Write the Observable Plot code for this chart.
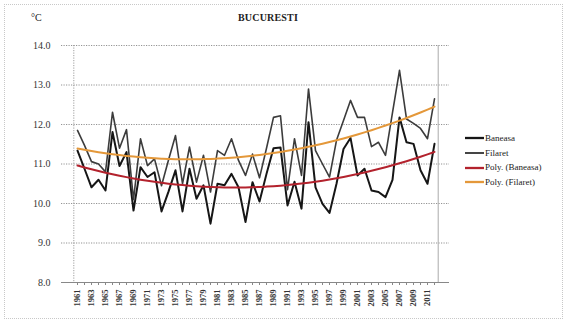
<!DOCTYPE html>
<html>
<head>
<meta charset="utf-8">
<script src="https://cdn.jsdelivr.net/npm/d3@7"></script>
<script src="https://cdn.jsdelivr.net/npm/@observablehq/plot@0.6"></script>
<style>
  html, body { margin: 0; padding: 0; background: #fff; }
  #wrap { position: relative; width: 566px; height: 321px; font-family: "Liberation Serif", "Times New Roman", "DejaVu Serif", serif; color: #222; overflow: hidden; }
  #border { position: absolute; left: 4px; top: 4px; right: 3px; bottom: 2px; border: 1px dotted #c8c8c8; pointer-events: none; }
  #header { position: relative; height: 30px; }
  #unit { position: absolute; left: 31px; top: 12px; font-size: 10px; }
  #title { position: absolute; left: 228px; width: 80px; text-align: center; top: 12px; font-size: 10px; font-weight: bold; letter-spacing: 0.2px; }
  #legend { position: absolute; left: 465px; top: 131px; font-size: 9px; line-height: 14.7px; }
  #legend .row { display: flex; align-items: center; white-space: nowrap; }
  #legend .sw { width: 19px; margin-right: 1px; }
</style>
</head>
<body>
<div id="wrap">
  <div id="border"></div>
  <div id="header"><div id="unit">°C</div><div id="title">BUCURESTI</div></div>
  <div id="chart"></div>
  <div id="legend"></div>
</div>
<script>
const years = [1961,1962,1963,1964,1965,1966,1967,1968,1969,1970,
  1971,1972,1973,1974,1975,1976,1977,1978,1979,1980,
  1981,1982,1983,1984,1985,1986,1987,1988,1989,1990,
  1991,1992,1993,1994,1995,1996,1997,1998,1999,2000,
  2001,2002,2003,2004,2005,2006,2007,2008,2009,2010,
  2011,2012];

const baneasa = [11.34,10.88,10.41,10.60,10.33,11.81,10.95,11.30,9.82,10.92,
  10.67,10.79,9.80,10.30,10.84,9.80,10.88,10.12,10.46,9.49,
  10.50,10.46,10.75,10.41,9.53,10.54,10.05,10.75,11.40,11.42,
  9.95,10.55,9.87,12.06,10.41,9.99,9.76,10.50,11.38,11.66,
  10.71,10.88,10.33,10.29,10.16,10.60,12.18,11.55,11.51,10.84,
  10.50,11.51];

const filaret = [11.85,11.47,11.06,11.00,10.80,12.31,11.40,11.87,10.10,11.64,
  10.96,11.13,10.45,11.10,11.72,10.50,11.43,10.54,11.22,10.29,
  11.34,11.22,11.64,11.09,10.71,11.25,10.65,11.40,12.18,12.22,
  10.35,11.64,10.71,12.90,11.34,11.00,10.67,11.60,12.10,12.61,
  12.18,12.18,11.44,11.55,11.22,12.30,13.37,12.14,12.03,11.90,
  11.64,12.65];

const yTicks = [8,9,10,11,12,13,14];
const labelYears = [1961,1963,1965,1967,1969,1971,1973,1975,1977,1979,1981,1983,1985,1987,1989,1991,1993,1995,1997,1999,2001,2003,2005,2007,2009,2011];

const seriesNames = ["Baneasa","Filaret","Poly. (Baneasa)","Poly. (Filaret)"];
const seriesColors = ["#161616","#3c3c3c","#b3222d","#e4983a"];
const seriesWidths = [2, 1.6, 2, 2];

// Order-2 polynomial least-squares trend (as Excel's "Poly." trendline), x = 1..n
function polyTrend(ys) {
  const n = ys.length;
  let s = [0,0,0,0,0], t = [0,0,0];
  for (let i = 0; i < n; i++) {
    const x = i + 1, y = ys[i];
    let p = 1;
    for (let k = 0; k <= 4; k++) { s[k] += p; if (k <= 2) t[k] += p * y; p *= x; }
  }
  const M = [[s[0],s[1],s[2]],[s[1],s[2],s[3]],[s[2],s[3],s[4]]];
  const det = m => m[0][0]*(m[1][1]*m[2][2]-m[1][2]*m[2][1]) - m[0][1]*(m[1][0]*m[2][2]-m[1][2]*m[2][0]) + m[0][2]*(m[1][0]*m[2][1]-m[1][1]*m[2][0]);
  const D = det(M);
  const coef = [0,1,2].map(c => det(M.map((row, r) => row.map((v, j) => j === c ? t[r] : v))) / D);
  return ys.map((_, i) => { const x = i + 1; return coef[0] + coef[1]*x + coef[2]*x*x; });
}

const trendB = polyTrend(baneasa);
const trendF = polyTrend(filaret);

const rows = years.map((yr, i) => ({year: yr, baneasa: baneasa[i], filaret: filaret[i], tb: trendB[i], tf: trendF[i]}));

const chart = Plot.plot({
  width: 566,
  height: 291,
  marginLeft: 61,
  marginRight: 117,
  marginTop: 15,
  marginBottom: 39,
  style: {fontFamily: "'Liberation Serif', 'Times New Roman', 'DejaVu Serif', serif", fontSize: "10px", background: "transparent", color: "#222"},
  x: {type: "point", domain: years, padding: 0.5, label: null},
  y: {domain: [8, 14], label: null},
  marks: [
    Plot.gridY(yTicks.slice(1), {stroke: "#777", strokeOpacity: 1, strokeWidth: 0.8, strokeDasharray: "1.2,1.3"}),
    Plot.ruleX([years[0]], {stroke: "#888", strokeWidth: 0.8, strokeDasharray: "1.2,1.3", dx: -3.7}),
    Plot.ruleX([years[years.length - 1]], {stroke: "#aaa", strokeWidth: 1, dx: 3.7}),
    Plot.ruleY([8], {stroke: "#888", strokeWidth: 1}),
    Plot.axisY({ticks: yTicks, tickFormat: d => d.toFixed(1), tickSize: 0, tickPadding: 11, fontSize: 10, fill: "#333", label: null}),
    Plot.axisX({ticks: years, tickFormat: d => labelYears.includes(d) ? String(d) : "", tickRotate: -90, tickSize: 3, tickPadding: 4, fontSize: 8.5, fontWeight: "bold", fill: "#333", stroke: "#888", label: null}),
    Plot.line(rows, {x: "year", y: "baneasa", stroke: seriesColors[0], strokeWidth: seriesWidths[0]}),
    Plot.line(rows, {x: "year", y: "filaret", stroke: seriesColors[1], strokeWidth: seriesWidths[1]}),
    Plot.line(rows, {x: "year", y: "tb", stroke: seriesColors[2], strokeWidth: seriesWidths[2], curve: "natural"}),
    Plot.line(rows, {x: "year", y: "tf", stroke: seriesColors[3], strokeWidth: seriesWidths[3], curve: "natural"})
  ]
});
document.getElementById("chart").appendChild(chart);

const legend = document.getElementById("legend");
seriesNames.forEach((name, i) => {
  const row = document.createElement("div");
  row.className = "row";
  row.innerHTML = `<svg class="sw" width="19" height="6"><line x1="0" x2="19" y1="3" y2="3" stroke="${seriesColors[i]}" stroke-width="${seriesWidths[i] + 0.3}"/></svg><span>${name}</span>`;
  legend.appendChild(row);
});
</script>
</body>
</html>
